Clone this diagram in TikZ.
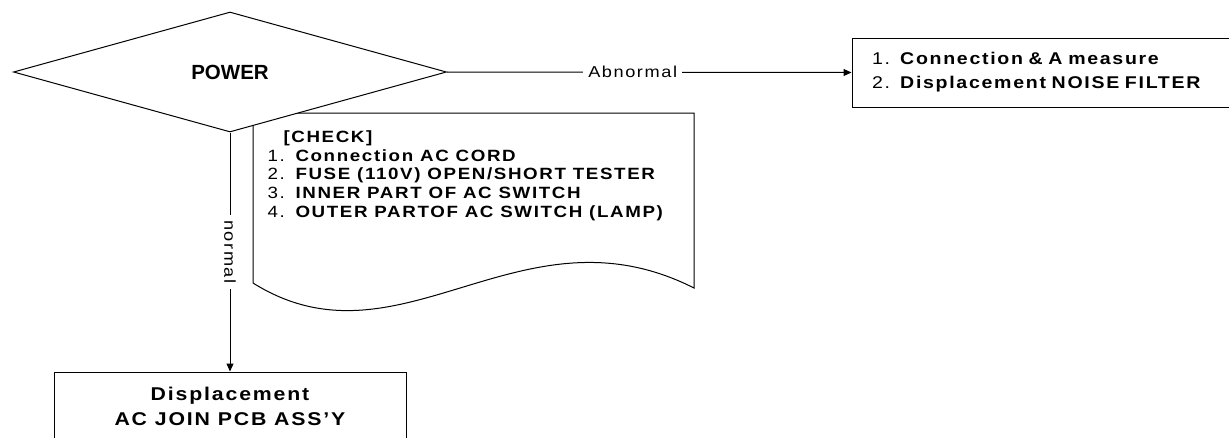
\documentclass[tikz,border=0pt]{standalone}
\usepackage{fontspec}
\setmainfont{Liberation Sans}[FakeStretch=1.15,LetterSpace=10]
\newfontfamily\powerfont{Liberation Sans}
\usetikzlibrary{shapes.geometric,arrows.meta}
\begin{document}
\begin{tikzpicture}[x=1pt,y=-1pt,line width=1pt,
  box/.style={draw,rectangle,fill=white,inner sep=0pt},
  lbl/.style={fill=white,inner xsep=5pt,inner ysep=1pt,font=\fontsize{15.8}{18}\selectfont},
  arr/.style={-{Triangle[length=8pt,width=7pt]}}]
\useasboundingbox (0,0) rectangle (1229,437);
% document (check list) shape, behind the diamond
\coordinate (dtl) at (253,113);
\coordinate (dtr) at (694,113);
\coordinate (dbr) at (694,288);
\coordinate (dbl) at (253,283);
\draw[fill=white] (dtl) -- (dtr) -- (dbr) .. controls (520,200) and (400,375) .. (dbl) -- cycle;
\node[anchor=north west,align=left,inner sep=0pt,font=\fontsize{16.3}{18.7}\selectfont] (check) at (267,130)
  {\hspace*{16pt}\textbf{[CHECK]}\\
   1. \textbf{Connection AC CORD}\\
   2. \textbf{FUSE (110V) OPEN/SHORT TESTER}\\
   3. \textbf{INNER PART OF AC SWITCH}\\
   4. \textbf{OUTER PARTOF AC SWITCH (LAMP)}};
% decision
\node[diamond,draw,fill=white,minimum width=433pt,minimum height=120pt,inner sep=0pt,
  font=\powerfont\bfseries\fontsize{20.5}{24}\selectfont] (power) at (230,72) {POWER};
% right box (its right side runs past the picture's edge)
\node[box,minimum width=400pt,minimum height=69pt,text width=360pt,inner xsep=20pt,align=left,
  font=\fontsize{17}{24}\selectfont] (abn) at (1052,72.5)
  {1. \textbf{Connection \& A measure}\\2. \textbf{Displacement NOISE FILTER}};
% bottom box (its lower side runs past the picture's edge)
\node[box,minimum width=352pt,minimum height=69pt,align=center,
  font=\bfseries\fontsize{18.5}{25}\selectfont] (disp) at (230,406.5)
  {Displacement\\AC JOIN PCB ASS’Y};
% connectors
\draw[arr] (power.east) -- node[lbl,pos=0.459] (abl) {Abnormal} (abn.west);
\draw[arr] (power.south) -- node[lbl,rotate=-90,pos=0.5] (nl) {normal} (disp.north);
\end{tikzpicture}
\end{document}
